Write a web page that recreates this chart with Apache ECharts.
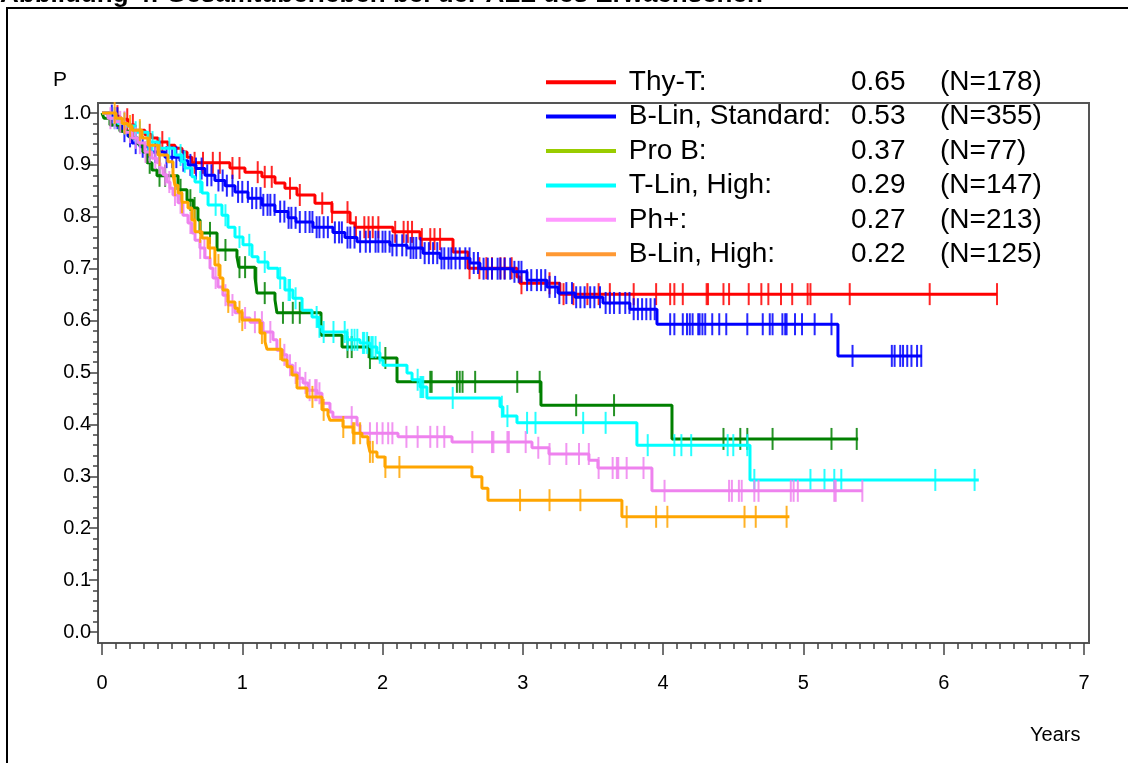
<!DOCTYPE html>
<html>
<head>
<meta charset="utf-8">
<title>Gesamtüberleben ALL</title>
<script src="https://cdn.jsdelivr.net/npm/echarts@6/dist/echarts.min.js"></script>
<style>
  html, body { margin: 0; padding: 0; background: #fff; }
  #chart { width: 1128px; height: 763px; }
</style>
</head>
<body>
<div id="chart"></div>
<script>
// groups, as listed in the legend
const groups = ['Thy-T', 'B-Lin, Standard', 'Pro B', 'T-Lin, High', 'Ph+', 'B-Lin, High']
const finalP = ['0.65', '0.53', '0.37', '0.29', '0.27', '0.22']
const counts = [178, 355, 77, 147, 213, 125]
const lineColors = ['#ff0000', '#0000ff', '#008000', '#00ffff', '#ee82ee', '#ffa500']
const legendColors = ['#ff0000', '#0000ff', '#99cc00', '#00ffff', '#ff99ff', '#ff9933']

// axis ticks
const xTicks = [0, 1, 2, 3, 4, 5, 6, 7]
const yTicks = [0, 0.1, 0.2, 0.3, 0.4, 0.5, 0.6, 0.7, 0.8, 0.9, 1.0]

// Thy-T
const thyTTime = [0, 0.057, 0.128, 0.185, 0.235, 0.306, 0.356, 0.399, 0.470, 0.520, 0.570, 0.606, 0.641, 0.912, 1.019, 1.140, 1.233, 1.304, 1.390, 1.518, 1.639, 1.768, 1.803, 2.074, 2.267, 2.502, 2.609, 2.958, 2.979, 3.264]
const thyTSurv = [1.0, 0.994, 0.988, 0.977, 0.967, 0.958, 0.952, 0.944, 0.938, 0.932, 0.925, 0.915, 0.904, 0.894, 0.886, 0.877, 0.865, 0.855, 0.842, 0.826, 0.809, 0.788, 0.78, 0.771, 0.757, 0.732, 0.701, 0.684, 0.672, 0.651]
const thyTEnd = 6.38
const thyTCens = [0.11, 0.18, 0.22, 0.34, 0.43, 0.66, 0.72, 0.79, 0.84, 0.93, 0.98, 1.11, 1.16, 1.21, 1.34, 1.41, 1.57, 1.64, 1.75, 1.81, 1.87, 1.90, 1.93, 1.97, 2.09, 2.15, 2.18, 2.21, 2.28, 2.34, 2.37, 2.41, 2.62, 2.69, 2.74, 2.78, 2.84, 2.87, 2.92, 2.99, 3.19, 3.29, 3.36, 3.46, 3.54, 3.62, 3.79, 3.95, 4.05, 4.08, 4.14, 4.31, 4.32, 4.43, 4.47, 4.61, 4.70, 4.75, 4.84, 4.92, 5.03, 5.05, 5.33, 5.90, 6.38]

// B-Lin, Standard
const bStdTime = [0, 0.043, 0.078, 0.114, 0.143, 0.185, 0.214, 0.271, 0.342, 0.449, 0.556, 0.613, 0.670, 0.734, 0.805, 0.877, 0.948, 1.041, 1.140, 1.233, 1.326, 1.383, 1.504, 1.646, 1.732, 1.818, 2.053, 2.174, 2.288, 2.409, 2.623, 2.694, 2.929, 3.029, 3.172, 3.250, 3.371, 3.571, 3.763, 3.956, 5.246]
const bStdSurv = [1.0, 0.995, 0.99, 0.98, 0.965, 0.955, 0.942, 0.935, 0.925, 0.915, 0.908, 0.9, 0.893, 0.88, 0.87, 0.86, 0.848, 0.836, 0.823, 0.81, 0.798, 0.79, 0.78, 0.77, 0.76, 0.752, 0.745, 0.74, 0.73, 0.72, 0.711, 0.70, 0.694, 0.678, 0.665, 0.653, 0.645, 0.634, 0.622, 0.593, 0.532]
const bStdEnd = 5.845
const bStdCens = [0.07, 0.11, 0.16, 0.20, 0.24, 0.29, 0.33, 0.38, 0.41, 0.46, 0.50, 0.53, 0.58, 0.63, 0.67, 0.71, 0.75, 0.78, 0.83, 0.86, 0.89, 0.93, 0.97, 1.00, 1.04, 1.07, 1.10, 1.13, 1.15, 1.18, 1.20, 1.23, 1.27, 1.30, 1.33, 1.35, 1.38, 1.41, 1.45, 1.48, 1.50, 1.53, 1.55, 1.58, 1.61, 1.66, 1.69, 1.71, 1.75, 1.77, 1.80, 1.84, 1.88, 1.91, 1.95, 1.97, 2.00, 2.02, 2.05, 2.07, 2.10, 2.14, 2.17, 2.20, 2.22, 2.24, 2.27, 2.30, 2.33, 2.36, 2.39, 2.42, 2.44, 2.47, 2.49, 2.52, 2.55, 2.59, 2.62, 2.65, 2.68, 2.72, 2.75, 2.78, 2.82, 2.84, 2.87, 2.91, 2.94, 2.97, 2.99, 3.03, 3.06, 3.10, 3.13, 3.16, 3.19, 3.23, 3.26, 3.31, 3.35, 3.38, 3.41, 3.44, 3.48, 3.51, 3.55, 3.59, 3.62, 3.65, 3.69, 3.73, 3.76, 3.79, 3.82, 3.85, 3.88, 3.91, 3.94, 4.05, 4.08, 4.14, 4.17, 4.19, 4.21, 4.25, 4.26, 4.28, 4.30, 4.35, 4.40, 4.45, 4.60, 4.71, 4.76, 4.78, 4.85, 4.87, 4.88, 4.94, 4.99, 5.08, 5.20, 5.35, 5.63, 5.65, 5.69, 5.71, 5.74, 5.77, 5.81, 5.84]

// Pro B
const proBTime = [0, 0.014, 0.057, 0.128, 0.2, 0.257, 0.292, 0.321, 0.356, 0.392, 0.542, 0.606, 0.649, 0.684, 0.699, 0.820, 0.962, 0.976, 1.091, 1.105, 1.233, 1.247, 1.561, 1.711, 1.910, 2.103, 3.129, 4.063]
const proBSurv = [1.0, 0.99, 0.977, 0.965, 0.952, 0.94, 0.925, 0.904, 0.89, 0.879, 0.852, 0.832, 0.817, 0.794, 0.769, 0.736, 0.723, 0.703, 0.682, 0.653, 0.64, 0.615, 0.572, 0.549, 0.528, 0.482, 0.437, 0.372]
const proBEnd = 5.39
const proBCens = [0.34, 0.41, 0.45, 0.56, 0.63, 0.66, 0.77, 0.88, 0.98, 1.02, 1.10, 1.16, 1.29, 1.36, 1.41, 1.75, 1.78, 1.90, 1.91, 2.02, 2.34, 2.35, 2.53, 2.55, 2.57, 2.66, 2.96, 3.12, 3.38, 3.65, 4.43, 4.55, 4.60, 4.78, 5.20, 5.38]

// T-Lin, High
const tHighTime = [0, 0.057, 0.114, 0.164, 0.235, 0.328, 0.399, 0.520, 0.570, 0.592, 0.641, 0.663, 0.713, 0.756, 0.855, 0.898, 0.948, 1.005, 1.069, 1.112, 1.183, 1.254, 1.304, 1.361, 1.426, 1.497, 1.540, 1.568, 1.746, 1.839, 1.910, 1.960, 1.981, 2.003, 2.174, 2.210, 2.267, 2.316, 2.837, 2.858, 2.958, 3.813, 4.619]
const tHighSurv = [1.0, 0.99, 0.98, 0.975, 0.963, 0.944, 0.932, 0.919, 0.906, 0.894, 0.877, 0.867, 0.846, 0.823, 0.803, 0.78, 0.761, 0.746, 0.723, 0.713, 0.701, 0.682, 0.659, 0.643, 0.62, 0.607, 0.588, 0.578, 0.563, 0.557, 0.549, 0.538, 0.524, 0.514, 0.499, 0.486, 0.472, 0.451, 0.434, 0.416, 0.403, 0.36, 0.293]
const tHighEnd = 6.25
const tHighCens = [0.09, 0.16, 0.24, 0.27, 0.33, 0.36, 0.41, 0.48, 0.56, 0.59, 0.70, 0.81, 0.88, 0.98, 1.05, 1.16, 1.27, 1.33, 1.34, 1.38, 1.53, 1.55, 1.58, 1.65, 1.73, 1.75, 1.78, 1.80, 1.82, 1.86, 1.87, 1.89, 1.92, 1.93, 1.95, 1.98, 2.25, 2.27, 2.28, 2.29, 2.50, 2.85, 2.89, 3.03, 3.09, 3.43, 3.59, 3.89, 4.08, 4.13, 4.20, 4.46, 4.50, 4.60, 4.65, 5.05, 5.15, 5.22, 5.27, 5.94, 6.22]

// Ph+
const phTime = [0, 0.043, 0.093, 0.164, 0.214, 0.257, 0.306, 0.356, 0.392, 0.413, 0.435, 0.463, 0.485, 0.506, 0.542, 0.577, 0.613, 0.641, 0.663, 0.698, 0.734, 0.770, 0.791, 0.827, 0.862, 0.898, 0.948, 0.998, 1.055, 1.148, 1.219, 1.247, 1.290, 1.319, 1.361, 1.397, 1.433, 1.469, 1.533, 1.568, 1.625, 1.646, 1.818, 1.839, 2.110, 2.495, 3.065, 3.186, 3.471, 3.535, 3.920]
const phSurv = [1.0, 0.99, 0.983, 0.963, 0.952, 0.942, 0.925, 0.913, 0.904, 0.894, 0.881, 0.867, 0.855, 0.842, 0.827, 0.803, 0.788, 0.769, 0.755, 0.74, 0.721, 0.701, 0.682, 0.665, 0.649, 0.63, 0.615, 0.605, 0.597, 0.578, 0.563, 0.543, 0.534, 0.514, 0.499, 0.489, 0.48, 0.466, 0.46, 0.441, 0.424, 0.414, 0.399, 0.383, 0.376, 0.366, 0.355, 0.343, 0.331, 0.316, 0.272]
const phEnd = 5.42
const phCens = [0.06, 0.09, 0.13, 0.16, 0.20, 0.24, 0.27, 0.31, 0.34, 0.38, 0.41, 0.45, 0.48, 0.52, 0.56, 0.63, 0.70, 0.73, 0.81, 0.88, 0.93, 1.02, 1.09, 1.14, 1.20, 1.30, 1.34, 1.38, 1.41, 1.45, 1.48, 1.52, 1.53, 1.55, 1.78, 1.91, 1.96, 2.00, 2.04, 2.07, 2.17, 2.25, 2.34, 2.39, 2.44, 2.64, 2.78, 2.79, 2.89, 2.90, 3.02, 3.11, 3.19, 3.31, 3.40, 3.47, 3.54, 3.64, 3.67, 3.68, 3.74, 3.86, 4.01, 4.47, 4.49, 4.54, 4.56, 4.65, 4.68, 4.91, 4.93, 4.96, 5.22, 5.23, 5.42]

// B-Lin, High
const bHighTime = [0, 0.100, 0.143, 0.185, 0.214, 0.285, 0.328, 0.399, 0.470, 0.506, 0.520, 0.542, 0.570, 0.613, 0.641, 0.663, 0.713, 0.756, 0.805, 0.841, 0.862, 0.898, 0.948, 0.969, 0.998, 1.126, 1.162, 1.176, 1.283, 1.319, 1.354, 1.390, 1.461, 1.568, 1.611, 1.625, 1.718, 1.789, 1.853, 1.896, 1.910, 1.960, 2.017, 2.637, 2.708, 2.751, 3.706]
const bHighSurv = [1.0, 0.99, 0.98, 0.975, 0.967, 0.952, 0.938, 0.919, 0.906, 0.881, 0.861, 0.846, 0.828, 0.817, 0.794, 0.771, 0.759, 0.74, 0.707, 0.682, 0.659, 0.636, 0.624, 0.617, 0.601, 0.576, 0.559, 0.545, 0.524, 0.511, 0.495, 0.47, 0.453, 0.428, 0.418, 0.408, 0.395, 0.383, 0.376, 0.364, 0.347, 0.337, 0.318, 0.299, 0.277, 0.254, 0.222]
const bHighEnd = 4.90
const bHighCens = [0.09, 0.16, 0.20, 0.27, 0.34, 0.41, 0.52, 0.57, 0.66, 0.70, 0.77, 0.83, 0.90, 0.98, 1.00, 1.14, 1.27, 1.50, 1.58, 1.72, 1.79, 1.80, 1.84, 1.91, 1.93, 2.02, 2.12, 2.98, 3.19, 3.41, 3.74, 3.95, 4.03, 4.58, 4.66, 4.88]

const curves = [
  [thyTTime, thyTSurv, thyTEnd, thyTCens],
  [bStdTime, bStdSurv, bStdEnd, bStdCens],
  [proBTime, proBSurv, proBEnd, proBCens],
  [tHighTime, tHighSurv, tHighEnd, tHighCens],
  [phTime, phSurv, phEnd, phCens],
  [bHighTime, bHighSurv, bHighEnd, bHighCens]
]

// survival estimate holding at time t (step function)
const survAt = (times, surv, t) => {
  let v = surv[0]
  times.forEach((tt, i) => { if (tt <= t) v = surv[i] })
  return v
}

// minor tick positions between the major ones
const minorBetween = (ticks, parts) => {
  const out = []
  for (let i = 0; i < ticks.length - 1; i++) {
    const step = (ticks[i + 1] - ticks[i]) / parts
    for (let k = 1; k < parts; k++) out.push(+(ticks[i] + k * step).toFixed(4))
  }
  return out
}

const FONT = 'Liberation Sans, Arial, sans-serif'
const AXIS_COLOR = '#444'

// the frame (grid) is a little wider than the tick range, as in the original plot
const X_MIN = -0.0285, X_MAX = 7.0356
const Y_MIN = -0.0212, Y_MAX = 1.0193

const series = []
curves.forEach(([times, surv, end, cens], i) => {
  series.push({
    name: groups[i],
    type: 'line',
    step: 'end',
    symbol: 'none',
    clip: false,
    lineStyle: { color: lineColors[i], width: 3 },
    itemStyle: { color: lineColors[i] },
    data: times.map((t, k) => [t, surv[k]]).concat([[end, surv[surv.length - 1]]]),
    z: 2 + i
  })
  series.push({
    name: groups[i],
    type: 'scatter',
    symbol: 'rect',
    symbolSize: [2, 22],
    clip: false,
    itemStyle: { color: lineColors[i], opacity: 0.85 },
    data: cens.map(t => [t, survAt(times, surv, t)]),
    z: 2 + i
  })
})

const tickLine = { color: AXIS_COLOR, width: 1.5 }

const chart = echarts.init(document.getElementById('chart'), null, { renderer: 'canvas' })
chart.setOption({
  animation: false,
  backgroundColor: '#fff',
  textStyle: { fontFamily: FONT },
  grid: { left: 98, right: 39, top: 103, bottom: 120, show: true, borderColor: '#555', borderWidth: 2, backgroundColor: 'transparent' },
  xAxis: [
    {
      type: 'value',
      min: X_MIN,
      max: X_MAX,
      position: 'bottom',
      axisLine: { show: true, onZero: false, lineStyle: { color: '#555', width: 2 } },
      axisTick: { show: true, length: 12, customValues: xTicks, lineStyle: tickLine },
      axisLabel: { color: '#000', fontSize: 20, margin: 30, fontFamily: FONT, customValues: xTicks },
      splitLine: { show: false }
    },
    {
      type: 'value',
      min: X_MIN,
      max: X_MAX,
      position: 'bottom',
      axisLine: { show: false, onZero: false },
      axisTick: { show: true, length: 6, customValues: minorBetween(xTicks, 10), lineStyle: tickLine },
      axisLabel: { show: false },
      splitLine: { show: false }
    }
  ],
  yAxis: [
    {
      type: 'value',
      min: Y_MIN,
      max: Y_MAX,
      position: 'left',
      axisLine: { show: true, onZero: false, lineStyle: { color: '#555', width: 2 } },
      axisTick: { show: true, length: 9, customValues: yTicks, lineStyle: tickLine },
      axisLabel: { color: '#000', fontSize: 20, margin: 7, fontFamily: FONT, customValues: yTicks, formatter: v => v.toFixed(1) },
      splitLine: { show: false }
    },
    {
      type: 'value',
      min: Y_MIN,
      max: Y_MAX,
      position: 'left',
      axisLine: { show: false, onZero: false },
      axisTick: { show: true, length: 5, customValues: minorBetween(yTicks, 5), lineStyle: tickLine },
      axisLabel: { show: false },
      splitLine: { show: false }
    }
  ],
  legend: {
    orient: 'vertical',
    left: 546,
    top: 65,
    padding: 0,
    icon: 'rect',
    itemWidth: 70,
    itemHeight: 4,
    itemGap: 0,
    selectedMode: false,
    data: groups.map((g, i) => ({ name: g, itemStyle: { color: legendColors[i] } })),
    formatter: name => {
      const i = groups.indexOf(name)
      return '{a| ' + name + ':}{b|' + finalP[i] + '}{c|(N=' + counts[i] + ')}'
    },
    textStyle: {
      color: '#000',
      fontSize: 28,
      fontFamily: FONT,
      lineHeight: 34.4,
      rich: {
        a: { width: 230, fontSize: 28, fontFamily: FONT, color: '#000' },
        b: { width: 89, fontSize: 28, fontFamily: FONT, color: '#000' },
        c: { fontSize: 28, fontFamily: FONT, color: '#000' }
      }
    }
  },
  graphic: [
    {
      type: 'rect',
      silent: true,
      z: -1,
      shape: { x: 7, y: 8, width: 1200, height: 800 },
      style: { fill: null, stroke: '#000', lineWidth: 2 }
    },
    {
      type: 'text',
      silent: true,
      left: 0,
      top: -18,
      style: { text: 'Abbildung 4: Gesamtüberleben bei der ALL des Erwachsenen', font: 'bold 26px ' + FONT, fill: '#000' }
    },
    {
      type: 'text',
      silent: true,
      left: 53,
      top: 70,
      style: { text: 'P', font: '21px ' + FONT, fill: '#000' }
    },
    {
      type: 'text',
      silent: true,
      left: 1030,
      top: 725,
      style: { text: 'Years', font: '20px ' + FONT, fill: '#000' }
    }
  ],
  series
})
</script>
</body>
</html>
